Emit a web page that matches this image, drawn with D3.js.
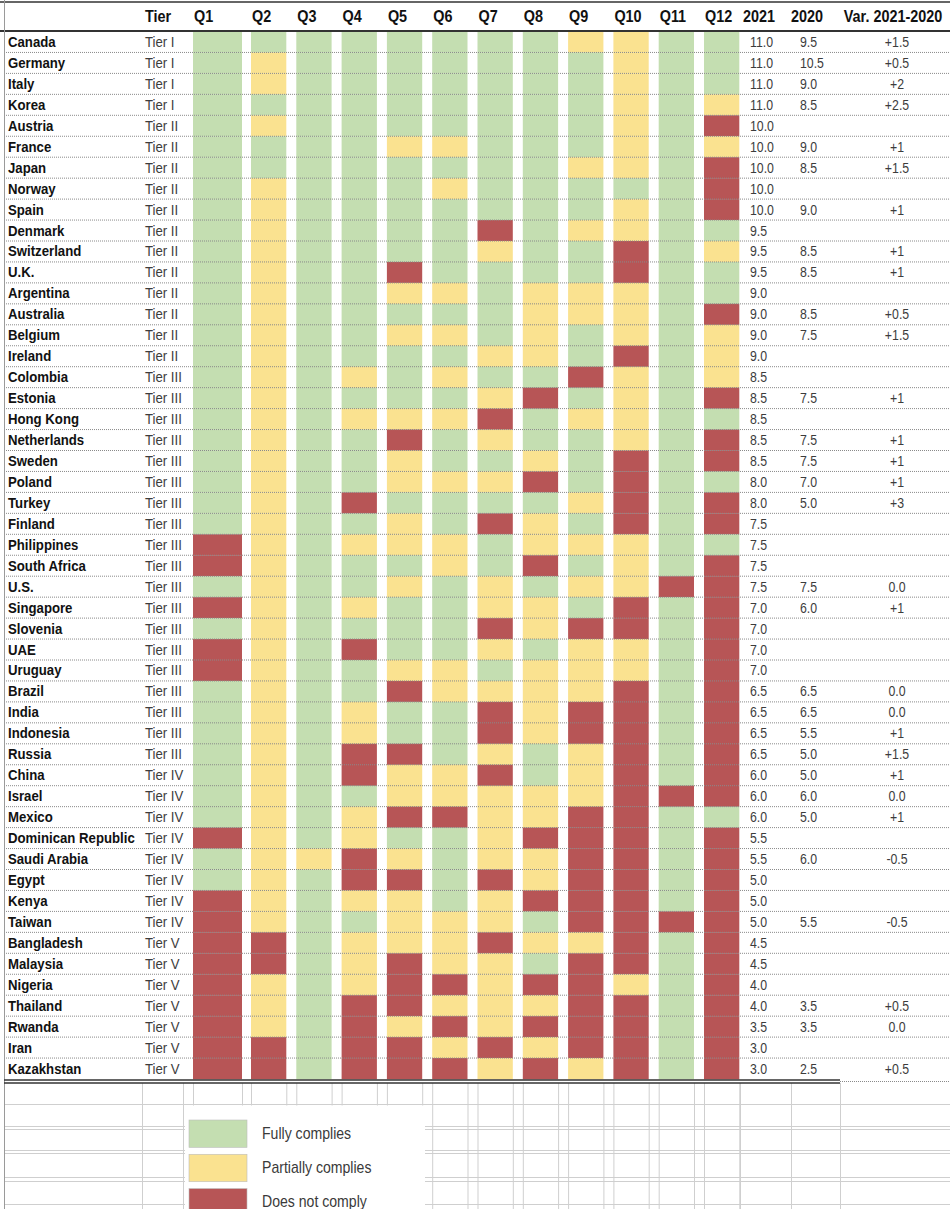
<!DOCTYPE html>
<html>
<head>
<meta charset="utf-8">
<script src="https://cdn.jsdelivr.net/npm/d3@7"></script>
<style>
  body { margin: 0; background: #fff; }
  svg { display: block; font-family: "Liberation Sans", Arial, sans-serif; }
</style>
</head>
<body>
<div id="chart"></div>
<script>
// ---- data ----
var countries = ["Canada","Germany","Italy","Korea","Austria","France","Japan","Norway","Spain","Denmark",
  "Switzerland","U.K.","Argentina","Australia","Belgium","Ireland","Colombia","Estonia","Hong Kong","Netherlands",
  "Sweden","Poland","Turkey","Finland","Philippines","South Africa","U.S.","Singapore","Slovenia","UAE",
  "Uruguay","Brazil","India","Indonesia","Russia","China","Israel","Mexico","Dominican Republic","Saudi Arabia",
  "Egypt","Kenya","Taiwan","Bangladesh","Malaysia","Nigeria","Thailand","Rwanda","Iran","Kazakhstan"];

var tiers = ["I","I","I","I","II","II","II","II","II","II",
  "II","II","II","II","II","II","III","III","III","III",
  "III","III","III","III","III","III","III","III","III","III",
  "III","III","III","III","III","IV","IV","IV","IV","IV",
  "IV","IV","IV","V","V","V","V","V","V","V"];

var questions = ["Q1","Q2","Q3","Q4","Q5","Q6","Q7","Q8","Q9","Q10","Q11","Q12"];

// G = fully complies, Y = partially complies, R = does not comply (Q1..Q12)
var ratings = [
  "GGGGGGGGYYGG","GYGGGGGGGYGG","GYGGGGGGGYGG","GGGGGGGGGYGY","GYGGGGGGGYGR",
  "GGGGYYGGGYGY","GGGGGGGGYYGR","GYGGGYGGGGGR","GYGGGGGGGYGR","GYGGGGRGYYGG",
  "GYGGGGYGGRGY","GYGGRGGGGRGG","GYGGYYGYYYGG","GYGGGGGYYYGR","GYGGYYGYGYGY",
  "GYGGGGYYGRGY","GYGYGYGGRYGY","GYGGGGYRGYGR","GYGYYYRGYYGG","GYGGRGYGGYGR",
  "GYGGYGGYGRGR","GYGGYYYRGRGG","GYGRGGGGYRGR","GYGGYGRYGRGR","RYGYYYGYYYGG",
  "RYGGGYGRGYGR","GYGGYGYGYYRR","RYGYGGYYGRGR","GYGGGGRYRRGR","RYGRGGYGYYGR",
  "RYGGYYGYYYGR","GYGGRYYYYRGR","GYGYGGRYRRGR","GYGYGGRYRRGR","GYGRRGYGYRGR",
  "GYGRYYRGYRGR","GYGGYYYYYRRR","GYGYRRYYRRGG","RYGYGGYRRRGR","GYYRYGYYRRGR",
  "GYGRRGRYRRGR","RYGYYGYRRRGR","RYGGYYYGRRRR","RRGYYYRYYRGR","RRGYRYYGRRGR",
  "RYGYRRYRRYGR","RYGRRYYYRRGR","RYGRYRYRRRGR","RRGRRYRYRRGR","RRGRRRYRYRGR"];

var score2021 = [11,11,11,11,10,10,10,10,10,9.5,
  9.5,9.5,9,9,9,9,8.5,8.5,8.5,8.5,
  8.5,8,8,7.5,7.5,7.5,7.5,7,7,7,
  7,6.5,6.5,6.5,6.5,6,6,6,5.5,5.5,
  5,5,5,4.5,4.5,4,4,3.5,3,3];

var score2020 = [9.5,10.5,9,8.5,null,9,8.5,null,9,null,
  8.5,8.5,null,8.5,7.5,null,null,7.5,null,7.5,
  7.5,7,5,null,null,null,7.5,6,null,null,
  null,6.5,6.5,5.5,5,5,6,5,null,6,
  null,null,5.5,null,null,null,3.5,3.5,null,2.5];

var variation = [1.5,0.5,2,2.5,null,1,1.5,null,1,null,
  1,1,null,0.5,1.5,null,null,1,null,1,
  1,1,3,null,null,null,0,1,null,null,
  null,0,0,1,1.5,1,0,1,null,-0.5,
  null,null,-0.5,null,null,null,0.5,0,null,0.5];

var legendCodes = ["G","Y","R"];
var legendLabels = ["Fully complies","Partially complies","Does not comply"];

// ---- layout ----
var w = 950, h = 1209;
var sx = 0.88;  // narrow the glyphs a bit, the source font is condensed

var svg = d3.select("#chart").append("svg")
    .attr("width", w)
    .attr("height", h);

var color = d3.scaleOrdinal()
    .domain(legendCodes)
    .range(["#c4deb1", "#fae290", "#b75556"]);

var y = d3.scaleBand()
    .domain(countries)
    .range([31.5, 31.5 + countries.length * 20.95]);

// Q1 is a wider spreadsheet column, the rest share one step
var colStart = d3.scaleOrdinal()
    .domain(questions)
    .range(questions.map(function(q, i) { return i === 0 ? 193 : 251 + (i - 1) * 45.3; }));
var colWidth = function(q) { return q === "Q1" ? 49 : 35.3; };

var tableBottom = y.range()[1];

function label(g, x, yy, txt, opts) {
  opts = opts || {};
  return g.append("text")
    .attr("transform", "translate(" + x + "," + yy + ") scale(" + (opts.scale || sx) + ",1)")
    .attr("text-anchor", opts.anchor || "start")
    .style("font-size", (opts.size || 14) + "px")
    .style("font-weight", opts.bold ? "bold" : "normal")
    .style("fill", opts.fill || "#222")
    .text(txt);
}

// ---- spreadsheet grid below the table ----
var grid = svg.append("g").attr("stroke", "#cfcfcf").attr("stroke-width", 1);
var gridX = [142.5, 183.5, 740.5, 791.5, 840.5];
questions.forEach(function(q) {
  gridX.push(colStart(q) + 0.5, colStart(q) + colWidth(q) + 0.5);
});
gridX.forEach(function(x) {
  grid.append("line").attr("x1", x).attr("x2", x).attr("y1", tableBottom + 4).attr("y2", h);
});
[1104.5, 1126.5, 1129.5, 1150.5, 1153.5, 1177.5, 1181.5, 1204.5].forEach(function(yy) {
  grid.append("line").attr("x1", 4).attr("x2", w).attr("y1", yy).attr("y2", yy);
});

// ---- cells ----
var rows = svg.append("g").selectAll("g")
    .data(countries)
    .enter().append("g")
    .attr("transform", function(d) { return "translate(0," + y(d) + ")"; });

rows.selectAll("rect")
    .data(function(d, i) { return ratings[i].split(""); })
    .enter().append("rect")
    .attr("x", function(d, j) { return colStart(questions[j]); })
    .attr("y", 0)
    .attr("width", function(d, j) { return colWidth(questions[j]); })
    .attr("height", y.bandwidth() + 0.3)
    .attr("fill", function(d) { return color(d); });

// dotted row separators
svg.append("g").selectAll("line")
    .data(countries.slice(0, -1))
    .enter().append("line")
    .attr("x1", 4).attr("x2", w)
    .attr("y1", function(d) { return y(d) + y.bandwidth(); })
    .attr("y2", function(d) { return y(d) + y.bandwidth(); })
    .attr("stroke", "#8a8a8a")
    .attr("stroke-width", 1)
    .attr("stroke-dasharray", "1,1");

// ---- row text ----
rows.each(function(d, i) {
  var g = d3.select(this);
  var base = y.bandwidth() / 2 + 5;
  label(g, 8, base, d, { bold: true, size: 15, fill: "#111" });
  label(g, 145, base, "Tier " + tiers[i], { size: 15, fill: "#3c3c3c" });
  label(g, 750, base, score2021[i].toFixed(1), { size: 14, fill: "#3c3c3c" });
  if (score2020[i] != null) label(g, 800, base, score2020[i].toFixed(1), { size: 14, fill: "#3c3c3c" });
  if (variation[i] != null) {
    var v = variation[i];
    var s = v === 0 ? "0.0" : (v > 0 ? "+" : "") + String(v);
    label(g, 897, base, s, { size: 14, fill: "#3c3c3c", anchor: "middle" });
  }
});

// ---- header ----
var head = svg.append("g");
var hy = 22;
label(head, 145, hy, "Tier", { bold: true, size: 16, scale: 0.9, fill: "#111" });
questions.forEach(function(q) {
  label(head, colStart(q) + 1, hy, q, { bold: true, size: 16, scale: 0.9, fill: "#111" });
});
label(head, 743, hy, "2021", { bold: true, size: 16, scale: 0.9, fill: "#111" });
label(head, 791, hy, "2020", { bold: true, size: 16, scale: 0.9, fill: "#111" });
label(head, 893, hy, "Var. 2021-2020", { bold: true, size: 16, scale: 0.9, fill: "#111", anchor: "middle" });

// borders
svg.append("line").attr("x1", 0).attr("x2", w).attr("y1", 2).attr("y2", 2)
    .attr("stroke", "#333").attr("stroke-width", 1.5);
svg.append("line").attr("x1", 0).attr("x2", w).attr("y1", 31).attr("y2", 31)
    .attr("stroke", "#333").attr("stroke-width", 2);
svg.append("line").attr("x1", 4.5).attr("x2", 4.5).attr("y1", 0).attr("y2", h)
    .attr("stroke", "#9a9a9a").attr("stroke-width", 1);
[tableBottom + 1, tableBottom + 4].forEach(function(yy) {
  svg.append("line").attr("x1", 4).attr("x2", 840).attr("y1", yy).attr("y2", yy)
      .attr("stroke", "#333").attr("stroke-width", 1.5);
});
svg.append("line").attr("x1", 840).attr("x2", w)
    .attr("y1", tableBottom + 2.5).attr("y2", tableBottom + 2.5)
    .attr("stroke", "#8a8a8a").attr("stroke-dasharray", "1,1");

// ---- legend ----
var legend = svg.append("g");
legend.append("rect")
    .attr("x", 185).attr("y", 1105.5)
    .attr("width", 240).attr("height", h - 1105)
    .attr("fill", "#fff");

var ly = d3.scaleBand().domain(legendCodes).range([1120, 1216]).paddingInner(0.2);

legend.selectAll(".sw")
    .data(legendCodes)
    .enter().append("rect")
    .attr("class", "sw")
    .attr("x", 189)
    .attr("y", function(d) { return ly(d); })
    .attr("width", 58)
    .attr("height", ly.bandwidth())
    .attr("fill", function(d) { return color(d); })
    .attr("stroke", "#bdbdbd")
    .attr("stroke-width", 0.6);

legendCodes.forEach(function(c, i) {
  label(legend, 262, ly(c) + ly.bandwidth() / 2 + 5, legendLabels[i], { size: 16, fill: "#3a3a3a" });
});
</script>
</body>
</html>
